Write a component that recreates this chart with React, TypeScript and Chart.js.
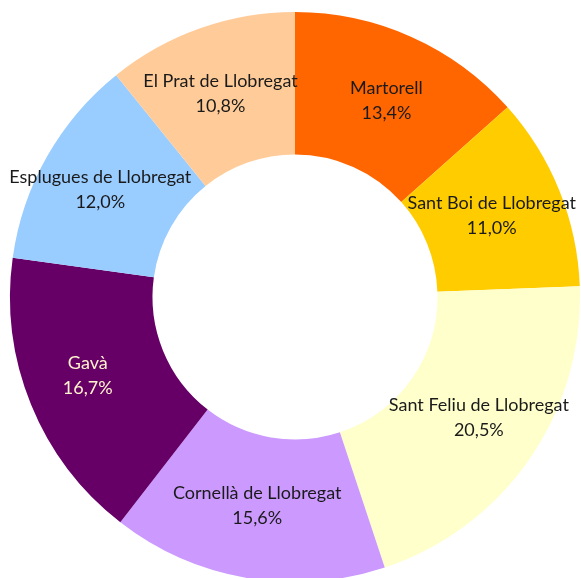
import React, { useEffect, useRef } from "react";
import { Chart, registerables } from "chart.js";

Chart.register(...registerables);

const categories = [
  "Martorell",
  "Sant Boi de Llobregat",
  "Sant Feliu de Llobregat",
  "Cornellà de Llobregat",
  "Gavà",
  "Esplugues de Llobregat",
  "El Prat de Llobregat",
];
const shares = [13.4, 11.0, 20.5, 15.6, 16.7, 12.0, 10.8];
const colors = ["#FF6600", "#FFCC00", "#FFFFCC", "#CC99FF", "#660066", "#99CCFF", "#FFCC99"];
const labelColors = ["#1a1a1a", "#1a1a1a", "#1a1a1a", "#1a1a1a", "#FFF2CC", "#1a1a1a", "#1a1a1a"];

const FONT = "18px Lato, 'Open Sans', sans-serif";

const labelPlugin = {
  id: "sliceLabels",
  afterDatasetsDraw(chart: any) {
    const ctx = chart.ctx;
    const meta = chart.getDatasetMeta(0);
    ctx.save();
    ctx.font = FONT;
    ctx.textAlign = "center";
    ctx.textBaseline = "middle";
    meta.data.forEach((arc: any, i: number) => {
      const p = arc.getProps(["x", "y", "startAngle", "endAngle", "innerRadius", "outerRadius"], true);
      const mid = (p.startAngle + p.endAngle) / 2;
      const ring = p.outerRadius - p.innerRadius;
      const rx = p.innerRadius + ring * 0.57;
      const ry = p.innerRadius + ring * 0.5;
      let x = p.x + Math.cos(mid) * rx;
      const y = p.y + Math.sin(mid) * ry - 2;
      const pct = shares[i].toFixed(1).replace(".", ",") + "%";
      const w = Math.max(ctx.measureText(categories[i]).width, ctx.measureText(pct).width);
      const maxX = chart.width - 5 - w / 2;
      const minX = 5 + w / 2;
      x = Math.min(maxX, Math.max(minX, x));
      ctx.fillStyle = labelColors[i];
      ctx.fillText(categories[i], x, y - 12);
      ctx.fillText(pct, x, y + 13);
    });
    ctx.restore();
  },
};

export default function App() {
  const ref = useRef<HTMLCanvasElement | null>(null);
  useEffect(() => {
    if (!ref.current) return;
    const chart = new Chart(ref.current, {
      type: "doughnut",
      data: {
        labels: categories,
        datasets: [
          {
            data: shares,
            backgroundColor: colors,
            borderWidth: 0,
          },
        ],
      },
      options: {
        responsive: false,
        animation: false,
        cutout: "50%",
        layout: { padding: { left: 10, right: 1, top: 12, bottom: 18 } },
        plugins: {
          legend: { display: false },
          tooltip: { enabled: false },
        },
      },
      plugins: [labelPlugin],
    });
    return () => chart.destroy();
  }, []);
  return (
    <div
      style={{
        position: "fixed",
        left: 0,
        top: 0,
        width: 581,
        height: 578,
        overflow: "hidden",
        background: "#fff",
      }}
    >
      <canvas ref={ref} width={581} height={600} style={{ width: 581, height: 600, display: "block" }} />
    </div>
  );
}
